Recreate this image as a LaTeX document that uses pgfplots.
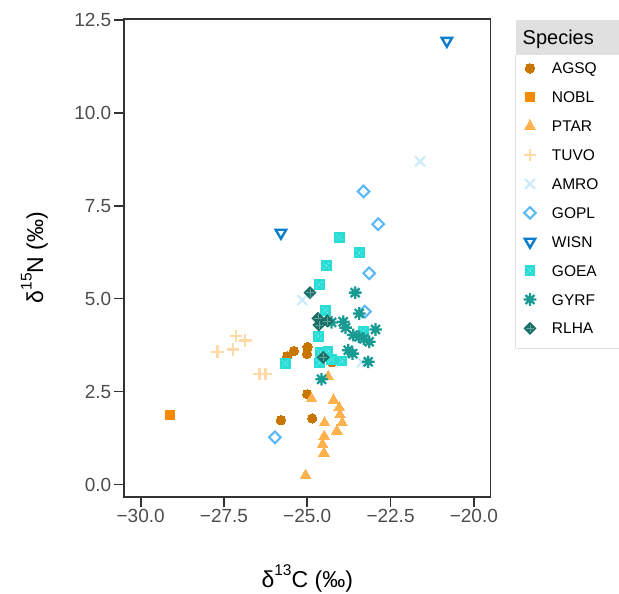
\documentclass[border=0pt]{standalone}
\usepackage{fontspec}
\setmainfont{Liberation Sans}
\usepackage{pgfplots}
\pgfplotsset{compat=1.18}

\definecolor{cAGSQ}{RGB}{200,118,0}
\definecolor{cNOBL}{RGB}{245,139,0}
\definecolor{cPTAR}{RGB}{255,177,78}
\definecolor{cTUVO}{RGB}{255,217,166}
\definecolor{cAMRO}{RGB}{204,235,250}
\definecolor{cGOPL}{RGB}{90,185,246}
\definecolor{cWISN}{RGB}{10,125,203}
\definecolor{cGOEA}{RGB}{39,221,213}
\definecolor{cGYRF}{RGB}{25,154,147}
\definecolor{cRLHA}{RGB}{24,112,104}
\definecolor{axisgray}{RGB}{51,51,51}
\definecolor{ticklab}{RGB}{77,77,77}
\definecolor{bandgray}{RGB}{224,224,224}
\definecolor{legborder}{RGB}{222,222,222}
\colorlet{goeaX}{white!55!cGOEA}
\colorlet{rlhaX}{white!35!cRLHA}

\pgfdeclareplotmark{star8}{%
  \pgfpathmoveto{\pgfqpoint{0pt}{\pgfplotmarksize}}\pgfpathlineto{\pgfqpoint{0pt}{-\pgfplotmarksize}}%
  \pgfpathmoveto{\pgfqpoint{\pgfplotmarksize}{0pt}}\pgfpathlineto{\pgfqpoint{-\pgfplotmarksize}{0pt}}%
  \pgfpathmoveto{\pgfqpoint{.7071\pgfplotmarksize}{.7071\pgfplotmarksize}}\pgfpathlineto{\pgfqpoint{-.7071\pgfplotmarksize}{-.7071\pgfplotmarksize}}%
  \pgfpathmoveto{\pgfqpoint{-.7071\pgfplotmarksize}{.7071\pgfplotmarksize}}\pgfpathlineto{\pgfqpoint{.7071\pgfplotmarksize}{-.7071\pgfplotmarksize}}%
  \pgfusepathqstroke}
\pgfdeclareplotmark{sqx}{%
  \pgfpathrectangle{\pgfqpoint{-\pgfplotmarksize}{-\pgfplotmarksize}}{\pgfqpoint{2\pgfplotmarksize}{2\pgfplotmarksize}}%
  \pgfusepathqfill
  \begin{pgfscope}%
  \pgfsetstrokecolor{goeaX}\pgfsetlinewidth{0.6bp}\pgfsetdash{{0.9bp}{1.5bp}}{0bp}%
  \pgfpathmoveto{\pgfqpoint{-.6\pgfplotmarksize}{-.6\pgfplotmarksize}}\pgfpathlineto{\pgfqpoint{.6\pgfplotmarksize}{.6\pgfplotmarksize}}%
  \pgfpathmoveto{\pgfqpoint{-.6\pgfplotmarksize}{.6\pgfplotmarksize}}\pgfpathlineto{\pgfqpoint{.6\pgfplotmarksize}{-.6\pgfplotmarksize}}%
  \pgfusepathqstroke
  \end{pgfscope}}
\pgfdeclareplotmark{dplus}{%
  \pgfpathmoveto{\pgfqpoint{0pt}{\pgfplotmarksize}}%
  \pgfpathlineto{\pgfqpoint{\pgfplotmarksize}{0pt}}%
  \pgfpathlineto{\pgfqpoint{0pt}{-\pgfplotmarksize}}%
  \pgfpathlineto{\pgfqpoint{-\pgfplotmarksize}{0pt}}%
  \pgfpathclose
  \pgfusepathqfill
  \begin{pgfscope}%
  \pgfsetstrokecolor{rlhaX}\pgfsetlinewidth{0.7bp}%
  \pgfpathmoveto{\pgfqpoint{0pt}{.6\pgfplotmarksize}}\pgfpathlineto{\pgfqpoint{0pt}{-.6\pgfplotmarksize}}%
  \pgfpathmoveto{\pgfqpoint{.6\pgfplotmarksize}{0pt}}\pgfpathlineto{\pgfqpoint{-.6\pgfplotmarksize}{0pt}}%
  \pgfusepathqstroke
  \end{pgfscope}}

\begin{document}
\begin{tikzpicture}
\path[use as bounding box] (0,0) rectangle (619bp,594bp);
% legend frame and title band
\fill[white] (515.7bp,246bp) rectangle (625bp,574bp);
\fill[bandgray] (515.7bp,539bp) rectangle (625bp,574bp);
\draw[legborder, line width=0.9bp] (515.7bp,246bp) -- (515.7bp,539bp);
\draw[legborder, line width=0.9bp] (515.7bp,246bp) -- (625bp,246bp);
\node[anchor=base west, inner sep=0pt, font=\fontsize{20bp}{24bp}\selectfont] at (522.5bp,549.5bp) {Species};
\begin{axis}[
  at={(124bp,97bp)}, anchor=south west,
  scale only axis, width=366.5bp, height=478bp,
  xmin=-30.5, xmax=-19.5, ymin=-0.334, ymax=12.517,
  axis line style={draw=axisgray, line width=1.8bp},
  tick style={draw=axisgray, line width=1.8bp},
  major tick length=10bp, tick align=outside,
  xtick pos=bottom, ytick pos=left,
  xtick={-30,-27.5,-25,-22.5,-20},
  xticklabels={{−30.0},{−27.5},{−25.0},{−22.5},{−20.0}},
  ytick={0,2.5,5,7.5,10,12.5},
  yticklabels={{0.0},{2.5},{5.0},{7.5},{10.0},{12.5}},
  ticklabel style={font=\fontsize{19bp}{22bp}\selectfont, text=ticklab},
  yticklabel style={inner xsep=2.5bp},
  xticklabel style={inner ysep=2.5bp},
  xlabel={δ\raisebox{0.5em}{\fontsize{15.5bp}{16bp}\selectfont 13}C (‰)},
  ylabel={δ\raisebox{0.5em}{\fontsize{15.5bp}{16bp}\selectfont 15}N (‰)},
  xlabel style={at={(axis description cs:0.5,-0.1883)}, anchor=base, inner sep=0pt, font=\fontsize{23bp}{26bp}\selectfont},
  ylabel style={at={(axis description cs:-0.221,0.501)}, anchor=base, inner sep=0pt, font=\fontsize{23bp}{26bp}\selectfont},
  legend image code/.code={\draw[#1] plot coordinates {(0bp,0bp)};},
  legend style={at={(1.0900,0.9146)}, anchor=north west, draw=none, fill=none,
    inner sep=0pt, outer sep=0pt, row sep=11.9bp, column sep=15.5bp,
    font=\fontsize{15.5bp}{18bp}\selectfont,
    nodes={inner sep=0pt, text height=14bp, text depth=3bp}},
  legend cell align=left,
]
\addplot[only marks, mark=*, mark size=4.7bp, draw=cAGSQ, fill=cAGSQ, mark options={line width=0pt}] coordinates {
(-25.60,3.45) (-25.40,3.59) (-24.99,3.70) (-25.01,3.51) (-25.00,2.43) (-25.79,1.73) (-24.85,1.78) (-24.26,3.29)};
\addlegendentry{AGSQ}
\addplot[only marks, mark=square*, mark size=4.5bp, draw=cNOBL, fill=cNOBL, mark options={line width=0pt}] coordinates {
(-29.12,1.88)};
\addlegendentry{NOBL}
\addplot[only marks, mark=triangle*, mark size=6.2bp, draw=cPTAR, fill=cPTAR, mark options={line width=0pt}] coordinates {
(-24.87,2.31) (-24.21,2.27) (-24.04,2.07) (-24.02,1.88) (-23.95,1.66) (-24.11,1.44) (-24.48,1.66) (-24.49,1.30) (-24.54,1.08) (-24.50,0.85) (-25.05,0.25) (-24.37,2.90)};
\addlegendentry{PTAR}
\addplot[only marks, mark=+, mark size=6.3bp, draw=cTUVO, mark options={line width=2.3bp}] coordinates {
(-27.14,3.99) (-26.86,3.87) (-27.69,3.57) (-27.23,3.63) (-26.43,2.97) (-26.25,2.97)};
\addlegendentry{TUVO}
\addplot[only marks, mark=x, mark size=7bp, draw=cAMRO, mark options={line width=2.2bp}] coordinates {
(-21.61,8.69) (-25.15,4.96) (-23.36,3.29)};
\addlegendentry{AMRO}
\addplot[only marks, mark=square, mark size=4.1bp, draw=cGOPL, mark options={line width=2.1bp, rotate=45}] coordinates {
(-23.31,7.88) (-22.87,7.00) (-23.14,5.68) (-23.27,4.65) (-25.97,1.27)};
\addlegendentry{GOPL}
\addplot[only marks, mark=triangle, mark size=6bp, draw=cWISN, mark options={line width=2.4bp, rotate=180}] coordinates {
(-20.81,11.93) (-25.79,6.77)};
\addlegendentry{WISN}
\addplot[only marks, mark=sqx, mark size=5.4bp, draw=cGOEA, fill=cGOEA] coordinates {
(-24.04,6.65) (-23.44,6.23) (-24.43,5.88) (-24.64,5.38) (-24.46,4.69) (-24.67,3.99) (-23.32,4.13) (-24.62,3.56) (-24.38,3.59) (-24.64,3.27) (-24.27,3.36) (-23.96,3.32) (-25.66,3.26)};
\addlegendentry{GOEA}
\addplot[only marks, mark=star8, mark size=6.3bp, draw=cGYRF, mark options={line width=2.3bp}] coordinates {
(-23.56,5.16) (-23.44,4.60) (-22.95,4.17) (-24.27,4.36) (-23.92,4.38) (-23.85,4.22) (-23.62,4.02) (-23.45,3.97) (-23.30,3.92) (-23.14,3.84) (-23.77,3.61) (-23.64,3.52) (-23.17,3.30) (-24.57,2.83)};
\addlegendentry{GYRF}
\addplot[only marks, mark=dplus, mark size=6.5bp, draw=cRLHA, fill=cRLHA] coordinates {
(-24.92,5.16) (-24.68,4.47) (-24.65,4.29) (-24.40,4.40) (-24.52,3.42)};
\addlegendentry{RLHA}
\end{axis}
\end{tikzpicture}
\end{document}
